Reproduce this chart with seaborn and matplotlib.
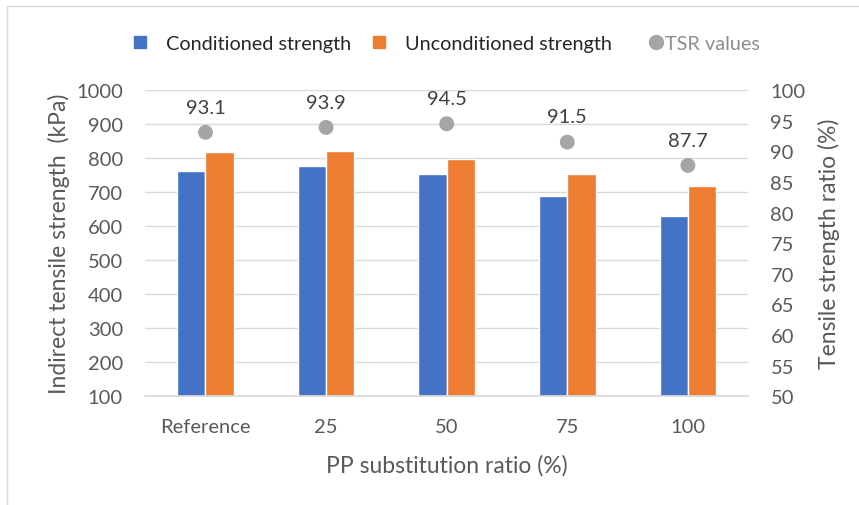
import matplotlib
matplotlib.use("Agg")
import matplotlib.pyplot as plt
from matplotlib.lines import Line2D
import numpy as np
import seaborn as sns
import pandas as pd

categories = ["Reference", "25", "50", "75", "100"]
conditioned = [763, 776, 753, 688, 631]
unconditioned = [818, 821, 798, 752, 719]
tsr = [93.1, 93.9, 94.5, 91.5, 87.7]

series_names = ["Conditioned strength", "Unconditioned strength"]
BLUE, ORANGE, GREY = "#4472C4", "#ED7D31", "#A5A5A5"
TXT = "#595959"

sns.set_theme(style="white")
plt.rcParams["font.family"] = ["Lato", "DejaVu Sans"]

df = pd.DataFrame({
    "ratio": categories * 2,
    "strength": conditioned + unconditioned,
    "series": [series_names[0]] * len(categories) + [series_names[1]] * len(categories),
})
df_tsr = pd.DataFrame({"ratio": categories, "tsr": tsr})

fig = plt.figure(figsize=(8.59, 5.06), dpi=100)
ax = fig.add_axes([0.169, 0.215, 0.702, 0.605])

sns.barplot(data=df, x="ratio", y="strength", hue="series", order=categories,
            hue_order=series_names, palette=[BLUE, ORANGE], width=0.47,
            saturation=1, ax=ax, legend=False, zorder=2)
ax.set_ylim(100, 1000)
ax.set_yticks(range(100, 1001, 100))
ax.yaxis.grid(True, color="#D9D9D9", linewidth=1, zorder=0)
ax.set_axisbelow(True)
for s in ["top", "right", "left"]:
    ax.spines[s].set_visible(False)
ax.spines["bottom"].set_color("#D9D9D9")
ax.tick_params(axis="y", length=0, labelsize=14.5, labelcolor=TXT, pad=16)
ax.tick_params(axis="x", length=0, labelsize=14.5, labelcolor=TXT, pad=16)
ax.set_xlabel("PP substitution ratio (%)", fontsize=16.5, color=TXT)
ax.set_ylabel("Indirect tensile strength  (kPa)", fontsize=16.5, color=TXT)
ax.yaxis.set_label_coords(-0.124, 0.5)
ax.xaxis.set_label_coords(0.5, -0.188)
ax.set_xlim(-0.5, 4.5)

ax2 = ax.twinx()
sns.scatterplot(data=df_tsr, x="ratio", y="tsr", color=GREY, s=115,
                edgecolor="none", ax=ax2, zorder=3)
ax2.set_ylim(50, 100)
ax2.set_yticks(range(50, 101, 5))
for s in ["top", "right", "left", "bottom"]:
    ax2.spines[s].set_visible(False)
ax2.tick_params(axis="y", length=0, labelsize=14.5, labelcolor=TXT, pad=16)
ax2.set_ylabel("Tensile strength ratio (%)", fontsize=16.5, color=TXT)
ax2.yaxis.set_label_coords(1.116, 0.5)
ax2.set_xlim(-0.5, 4.5)
for i, v in enumerate(tsr):
    ax2.annotate(f"{v}", (i, v), xytext=(0, 12), textcoords="offset points",
                 ha="center", va="bottom", fontsize=14.5, color="#404040")

handles = [
    Line2D([], [], marker="s", linestyle="none", color=BLUE, markersize=8),
    Line2D([], [], marker="s", linestyle="none", color=ORANGE, markersize=8),
    Line2D([], [], marker="o", linestyle="none", color=GREY, markersize=10),
]
leg = fig.legend(handles, series_names + ["TSR values"], loc="center",
                 bbox_to_anchor=(0.518, 0.912), ncol=3, frameon=False,
                 fontsize=14.3, handlelength=1.0, handletextpad=0.8,
                 columnspacing=0.9, labelcolor="#262626")
# the dot marker sits tight against its label
dot = leg.legend_handles[2]
dot.set_xdata(np.asarray(dot.get_xdata()) + 12)
leg.get_texts()[2].set_color("#8C8C8C")

# outer chart frame
fig.add_artist(Line2D([0.008, 0.008], [0, 0.986], transform=fig.transFigure,
                      color="#D9D9D9", linewidth=1))
fig.add_artist(Line2D([0.008, 1.0], [0.986, 0.986], transform=fig.transFigure,
                      color="#D9D9D9", linewidth=1))

fig.savefig("out.png", dpi=100)
